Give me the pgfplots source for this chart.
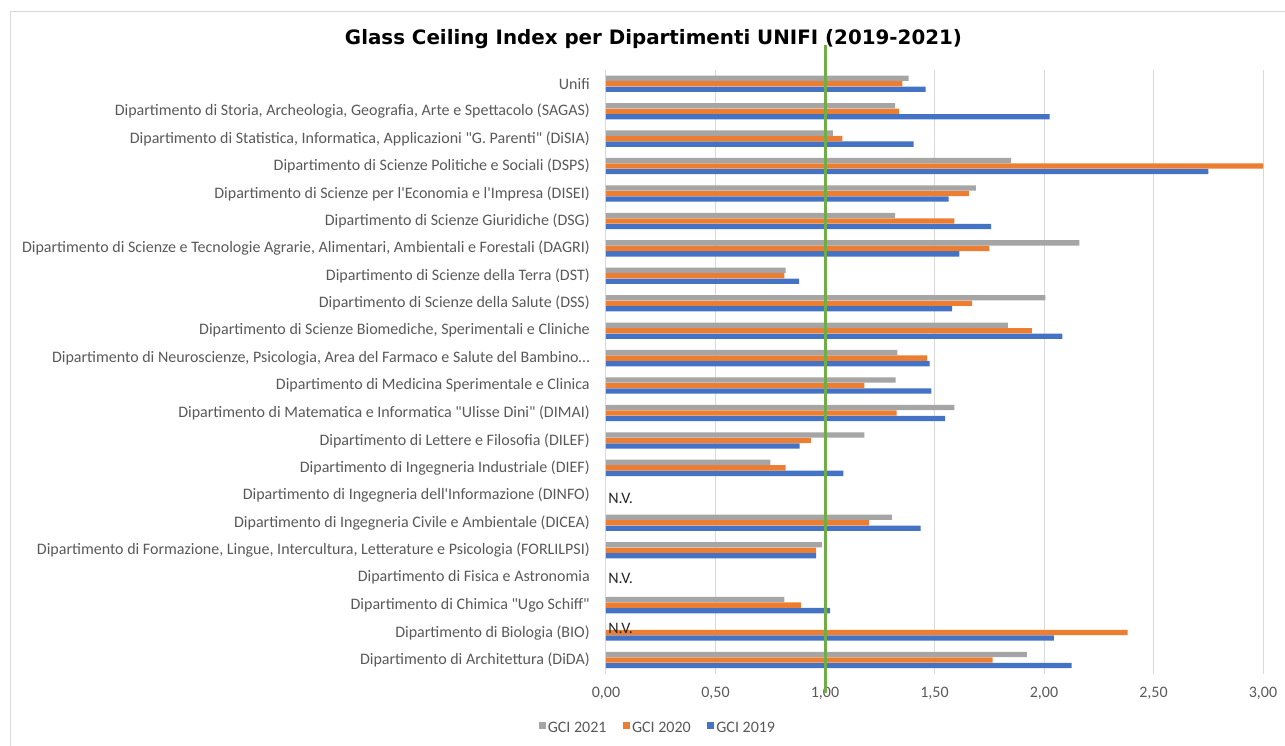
\documentclass[border=0pt]{standalone}
\usepackage{fontspec}
\setmainfont{Carlito}
\newfontfamily\titlefont{DejaVu Sans}
\usepackage{graphicx}
\usepackage{pgfplots}
\pgfplotsset{compat=1.18}
\definecolor{cgray}{HTML}{A5A5A5}
\definecolor{corange}{HTML}{ED7D31}
\definecolor{cblue}{HTML}{4472C4}
\definecolor{cgreen}{HTML}{70AD47}
\definecolor{cgrid}{HTML}{D9D9D9}
\definecolor{ctext}{HTML}{595959}
\newcommand{\q}{\textquotedbl}
\newcommand{\ap}{\textquotesingle}

\begin{document}
\begin{tikzpicture}
\useasboundingbox (0,0) rectangle (963.75pt,559.5pt);
\draw[cgrid, line width=0.75pt] (7.5pt,0) -- (7.5pt,550.5pt) -- (963.75pt,550.5pt);
\node[anchor=base, inner sep=0pt] at (490.1pt,525.75pt) {\resizebox{462.75pt}{!}{\titlefont\bfseries Glass Ceiling Index per Dipartimenti UNIFI (2019-2021)}};
\begin{axis}[
  at={(454.5pt,54.225pt)}, anchor=south west,
  scale only axis, width=492.75pt, height=452.775pt,
  xmin=0, xmax=3, ymin=-0.5, ymax=21.5,
  xbar=0.15pt, bar width=3.98pt,
  clip=false,
  axis lines*=left,
  x axis line style={draw=none},
  y axis line style={draw=cgrid, line width=0.75pt},
  xtick={0,0.5,1,1.5,2,2.5,3},
  xticklabels={{0,00},{0,50},{1,00},{1,50},{2,00},{2,50},{3,00}},
  ytick={0,1,2,3,4,5,6,7,8,9,10,11,12,13,14,15,16,17,18,19,20,21},
  yticklabels={
    {Dipartimento di Architettura (DiDA)},
    {Dipartimento di Biologia (BIO)},
    {Dipartimento di Chimica \q Ugo Schiff\q},
    {Dipartimento di Fisica e Astronomia},
    {Dipartimento di Formazione, Lingue, Intercultura, Letterature e Psicologia (FORLILPSI)},
    {Dipartimento di Ingegneria Civile e Ambientale (DICEA)},
    {Dipartimento di Ingegneria dell\ap Informazione (DINFO)},
    {Dipartimento di Ingegneria Industriale (DIEF)},
    {Dipartimento di Lettere e Filosofia (DILEF)},
    {Dipartimento di Matematica e Informatica \q Ulisse Dini\q{} (DIMAI)},
    {Dipartimento di Medicina Sperimentale e Clinica},
    {Dipartimento di Neuroscienze, Psicologia, Area del Farmaco e Salute del Bambino\ldots},
    {Dipartimento di Scienze Biomediche, Sperimentali e Cliniche},
    {Dipartimento di Scienze della Salute (DSS)},
    {Dipartimento di Scienze della Terra (DST)},
    {Dipartimento di Scienze e Tecnologie Agrarie, Alimentari, Ambientali e Forestali (DAGRI)},
    {Dipartimento di Scienze Giuridiche (DSG)},
    {Dipartimento di Scienze per l\ap Economia e l\ap Impresa (DISEI)},
    {Dipartimento di Scienze Politiche e Sociali (DSPS)},
    {Dipartimento di Statistica, Informatica, Applicazioni \q G. Parenti\q{} (DiSIA)},
    {Dipartimento di Storia, Archeologia, Geografia, Arte e Spettacolo (SAGAS)},
    {Unifi}},
  major tick length=0pt,
  xmajorgrids, major grid style={draw=cgrid, line width=0.75pt},
  tick label style={font=\fontsize{12}{14}\selectfont, text=ctext},
  yticklabel style={anchor=east, inner sep=0pt, xshift=-12pt},
  xticklabel style={anchor=north, inner sep=0pt, yshift=-9.75pt},
  legend style={at={(0.0791,-0.0899)}, anchor=center, draw=none, fill=none,
    legend columns=3, font=\fontsize{12}{14}\selectfont, text=ctext,
    nodes={inner xsep=1.5pt},
    /tikz/every even column/.append style={column sep=11pt}},
  reverse legend,
  sq/.style={legend image code/.code={\fill[##1] (0pt,-0.4pt) rectangle (5.2pt,4.8pt);}},
]
\addplot[fill=cblue, draw=none, bar shift=-4.125pt, sq] coordinates {
(2.126,0) (2.045,1) (1.023,2) (0.960,4) (1.437,5) (1.084,7) (0.884,8) (1.549,9)
(1.486,10) (1.478,11) (2.084,12) (1.581,13) (0.882,14) (1.614,15) (1.759,16)
(1.564,17) (2.751,18) (1.405,19) (2.026,20) (1.459,21)};
\addlegendentry{GCI 2019}
\addplot[fill=corange, draw=none, bar shift=0pt, sq] coordinates {
(1.765,0) (2.382,1) (0.890,2) (0.960,4) (1.201,5) (0.820,7) (0.936,8) (1.327,9)
(1.180,10) (1.466,11) (1.945,12) (1.672,13) (0.815,14) (1.750,15) (1.591,16)
(1.657,17) (3.000,18) (1.079,19) (1.338,20) (1.353,21)};
\addlegendentry{GCI 2020}
\addplot[fill=cgray, draw=none, bar shift=4.125pt, sq] coordinates {
(1.922,0) (0.815,2) (0.986,4) (1.305,5) (0.750,7) (1.180,8) (1.591,9)
(1.323,10) (1.331,11) (1.835,12) (2.006,13) (0.820,14) (2.161,15) (1.320,16)
(1.689,17) (1.850,18) (1.036,19) (1.320,20) (1.382,21)};
\addlegendentry{GCI 2021}
\addplot[sharp plot, cgreen, line width=2.25pt, forget plot] coordinates {(1,-1.2) (1,22.41)};
\node[anchor=west, inner sep=0pt, xshift=1.5pt, font=\fontsize{12}{14}\selectfont, text=black!85] at (axis cs:0,5.89) {N.V.};
\node[anchor=west, inner sep=0pt, xshift=1.5pt, font=\fontsize{12}{14}\selectfont, text=black!85] at (axis cs:0,2.99) {N.V.};
\node[anchor=west, inner sep=0pt, xshift=1.5pt, font=\fontsize{12}{14}\selectfont, text=black!85] at (axis cs:0,1.155) {N.V.};
\end{axis}
\end{tikzpicture}
\end{document}
